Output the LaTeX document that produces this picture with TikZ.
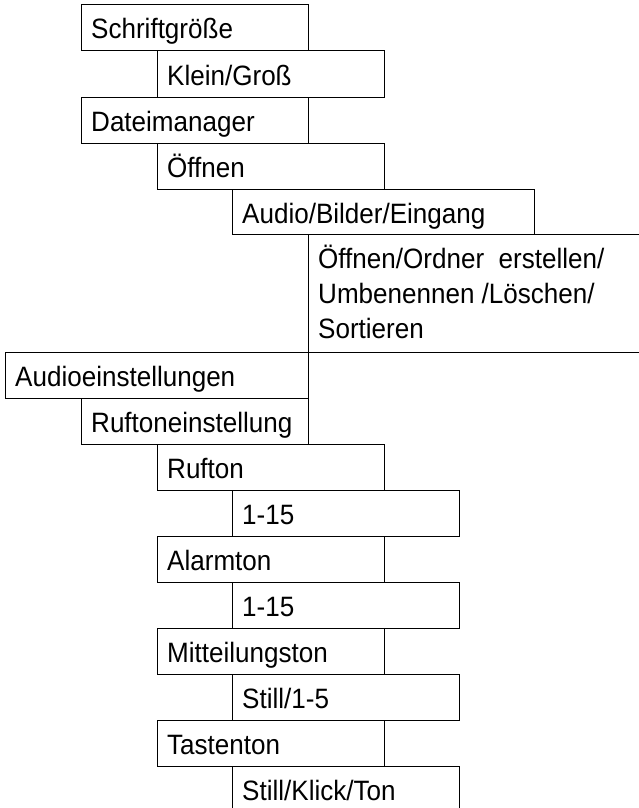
\documentclass[tikz,border=0pt]{standalone}
\usepackage{fontspec}
\setmainfont{Liberation Sans}[FakeStretch=0.93]
\begin{document}
\begin{tikzpicture}[x=1pt,y=1pt,yscale=-1,xscale=1,
	cell/.style={line width=1pt},
	entry/.style={anchor=base west,inner sep=0pt,align=left,font=\fontsize{28}{35}\selectfont}]
	\useasboundingbox (0,0) rectangle (639,808);
	
	%Shape: Rectangle
	\draw [cell] (81,5) -- (308,5) -- (308,51) -- (81,51) -- cycle ;
	%Shape: Rectangle
	\draw [cell] (157,51) -- (384,51) -- (384,97) -- (157,97) -- cycle ;
	%Shape: Rectangle
	\draw [cell] (81,97) -- (308,97) -- (308,143) -- (81,143) -- cycle ;
	%Shape: Rectangle
	\draw [cell] (157,143) -- (384,143) -- (384,189) -- (157,189) -- cycle ;
	%Shape: Rectangle
	\draw [cell] (232,189) -- (534,189) -- (534,234) -- (232,234) -- cycle ;
	%Shape: Rectangle (open on the right)
	\draw [cell] (639,234) -- (308,234) -- (308,352) -- (639,352) ;
	%Shape: Rectangle
	\draw [cell] (5,352) -- (308,352) -- (308,398) -- (5,398) -- cycle ;
	%Shape: Rectangle
	\draw [cell] (81,398) -- (308,398) -- (308,444) -- (81,444) -- cycle ;
	%Shape: Rectangle
	\draw [cell] (157,444) -- (384,444) -- (384,490) -- (157,490) -- cycle ;
	%Shape: Rectangle
	\draw [cell] (232,490) -- (459,490) -- (459,536) -- (232,536) -- cycle ;
	%Shape: Rectangle
	\draw [cell] (157,536) -- (384,536) -- (384,582) -- (157,582) -- cycle ;
	%Shape: Rectangle
	\draw [cell] (232,582) -- (459,582) -- (459,628) -- (232,628) -- cycle ;
	%Shape: Rectangle
	\draw [cell] (157,628) -- (384,628) -- (384,674) -- (157,674) -- cycle ;
	%Shape: Rectangle
	\draw [cell] (232,674) -- (459,674) -- (459,720) -- (232,720) -- cycle ;
	%Shape: Rectangle
	\draw [cell] (157,720) -- (384,720) -- (384,766) -- (157,766) -- cycle ;
	%Shape: Rectangle (cut at the bottom)
	\draw [cell] (232,808) -- (232,766) -- (459,766) -- (459,808) ;
	
	% Text Node
	\draw (91,39) node [entry] (schrift) {Schriftgröße};
	% Text Node
	\draw (167,85) node [entry] (klein) {Klein/Groß};
	% Text Node
	\draw (91,131) node [entry] (datei) {Dateimanager};
	% Text Node
	\draw (167,177) node [entry] (oeffnen) {Öffnen};
	% Text Node
	\draw (242,223) node [entry] (ordner) {Audio/Bilder/Eingang};
	% Text Node (base = last line)
	\draw (318,338) node [entry] (aktion) {Öffnen/Ordner~ erstellen/\\Umbenennen /Löschen/\\Sortieren};
	% Text Node
	\draw (15,386) node [entry] (audio) {Audioeinstellungen};
	% Text Node
	\draw (91,432) node [entry] (rufeinst) {Ruftoneinstellung};
	% Text Node
	\draw (167,478) node [entry] (rufton) {Rufton};
	% Text Node
	\draw (242,524) node [entry] (rufwahl) {1-15};
	% Text Node
	\draw (167,570) node [entry] (alarm) {Alarmton};
	% Text Node
	\draw (242,616) node [entry] (alarmwahl) {1-15};
	% Text Node
	\draw (167,662) node [entry] (mitteil) {Mitteilungston};
	% Text Node
	\draw (242,708) node [entry] (mitteilwahl) {Still/1-5};
	% Text Node
	\draw (167,754) node [entry] (taste) {Tastenton};
	% Text Node
	\draw (242,800) node [entry] (tastewahl) {Still/Klick/Ton};
	
\end{tikzpicture}
\end{document}
